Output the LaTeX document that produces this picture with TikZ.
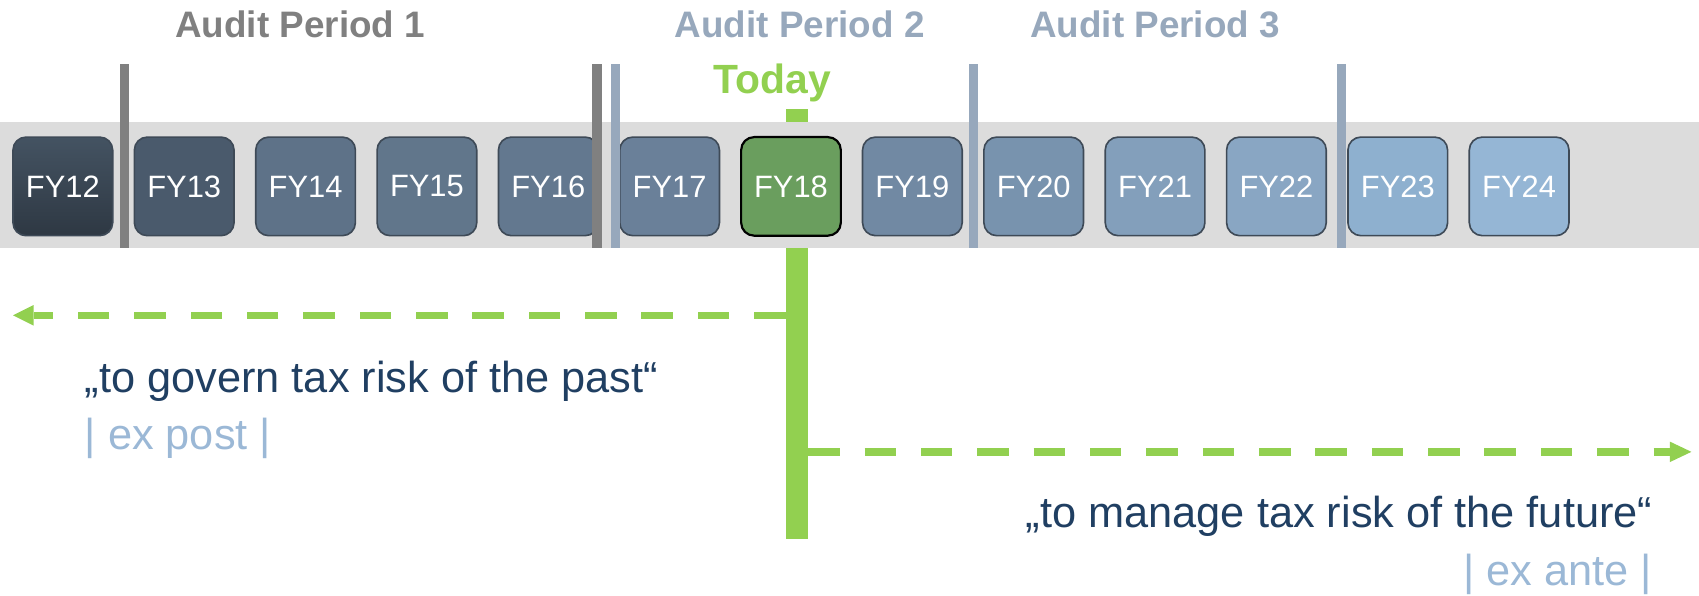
\documentclass[tikz,border=0pt]{standalone}
\usepackage{fontspec}
\setmainfont{Liberation Sans}
\usetikzlibrary{calc}
\definecolor{bandgray}{HTML}{DCDCDC}
\definecolor{bardark}{HTML}{808080}
\definecolor{barlight}{HTML}{97A8BC}
\definecolor{todaygreen}{HTML}{92D050}
\definecolor{quoteblue}{HTML}{203F62}
\definecolor{exblue}{HTML}{9BB8D6}
\definecolor{boxedge}{HTML}{3E4A57}
\definecolor{c12t}{HTML}{445362}
\definecolor{c12b}{HTML}{2E3843}
\definecolor{c13}{HTML}{4A5A6C}
\definecolor{c14}{HTML}{5E7288}
\definecolor{c15}{HTML}{61768B}
\definecolor{c16}{HTML}{63788F}
\definecolor{c17}{HTML}{6A8099}
\definecolor{c18}{HTML}{6A9E5E}
\definecolor{c19}{HTML}{7189A3}
\definecolor{c20}{HTML}{7893AE}
\definecolor{c21}{HTML}{839FBB}
\definecolor{c22}{HTML}{89A6C3}
\definecolor{c23}{HTML}{8EB0CF}
\definecolor{c24}{HTML}{95B6D5}
\tikzset{
  fybox/.style={draw=boxedge, line width=1.5pt, rounded corners=12pt,
    minimum width=92pt, minimum height=91pt, inner sep=0pt,
    text=white, font=\fontsize{28.5}{30}\selectfont},
  sepdark/.style={fill=bardark, draw=none},
  seplight/.style={fill=barlight, draw=none},
  periodlabel/.style={anchor=base, inner sep=0pt, font=\fontsize{34}{36}\selectfont\bfseries},
  quotetext/.style={inner sep=0pt, text=quoteblue, font=\fontsize{40}{42}\selectfont},
  extext/.style={inner sep=0pt, text=exblue, font=\fontsize{40}{42}\selectfont},
  dasharrow/.style={draw=todaygreen, line width=7pt, dash pattern=on 29pt off 23pt},
  arrowhead/.style={fill=todaygreen, draw=none}
}
\begin{document}
\begin{tikzpicture}[x=1pt,y=-1pt]
\useasboundingbox (0,0) rectangle (1568,550);
% today line (behind band)
\fill[todaygreen] (725,101) rectangle (746,497);
\coordinate (lineL) at (725,291);
\coordinate (lineR) at (746,417);
% band
\fill[bandgray] (0,113) rectangle (1568,229);
% boxes
\node[fybox, top color=c12t, bottom color=c12b] (fy12) at (58,172) {FY12};
\node[fybox, fill=c13] (fy13) at (170,172) {FY13};
\node[fybox, fill=c14] (fy14) at (282,172) {FY14};
\node[fybox, fill=c15] (fy15) at (394,172) {FY15};
\node[fybox, fill=c16] (fy16) at (506,172) {FY16};
\node[fybox, fill=c17] (fy17) at (618,172) {FY17};
\node[fybox, fill=c18, draw=black, line width=2pt] (fy18) at (730,172) {FY18};
\node[fybox, fill=c19] (fy19) at (842,172) {FY19};
\node[fybox, fill=c20] (fy20) at (954,172) {FY20};
\node[fybox, fill=c21] (fy21) at (1066,172) {FY21};
\node[fybox, fill=c22] (fy22) at (1178,172) {FY22};
\node[fybox, fill=c23] (fy23) at (1290,172) {FY23};
\node[fybox, fill=c24] (fy24) at (1402,172) {FY24};
% separators
\fill[sepdark] (110.5,59) rectangle (119.5,229);
\fill[sepdark] (546.5,59) rectangle (555.5,229);
\fill[seplight] (564,59) rectangle (572.5,229);
\fill[seplight] (894.5,59) rectangle (903,229);
\fill[seplight] (1233.5,59) rectangle (1242.5,229);
% labels
\node[periodlabel, text=bardark] (ap1) at (277,35) {Audit Period 1};
\node[periodlabel, text=barlight] (ap2) at (738,35) {Audit Period 2};
\node[periodlabel, text=barlight] (ap3) at (1066,35) {Audit Period 3};
\node[anchor=base, inner sep=0pt, text=todaygreen, font=\fontsize{37.7}{40}\selectfont\bfseries] (today) at (713,86) {Today};
% arrows
\coordinate (tipL) at (12,291);
\coordinate (baseL) at (31,291);
\coordinate (tipR) at (1561,417);
\coordinate (baseR) at (1541,417);
\draw[dasharrow] (lineL) -- (baseL);
\fill[arrowhead] (tipL) -- ($(baseL)+(0,-9.5)$) -- ($(baseL)+(0,9.5)$) -- cycle;
\draw[dasharrow] (lineR) -- (baseR);
\fill[arrowhead] (tipR) -- ($(baseR)+(0,-9.5)$) -- ($(baseR)+(0,9.5)$) -- cycle;
% texts
\node[quotetext, anchor=base west] (q1) at (78,362) {„to govern tax risk of the past“};
\node[extext, anchor=base west] (e1) at (78,415) {| ex post |};
\node[quotetext, anchor=base east] (q2) at (1525,487) {„to manage tax risk of the future“};
\node[extext, anchor=base east] (e2) at (1525,540) {| ex ante |};
\end{tikzpicture}
\end{document}
